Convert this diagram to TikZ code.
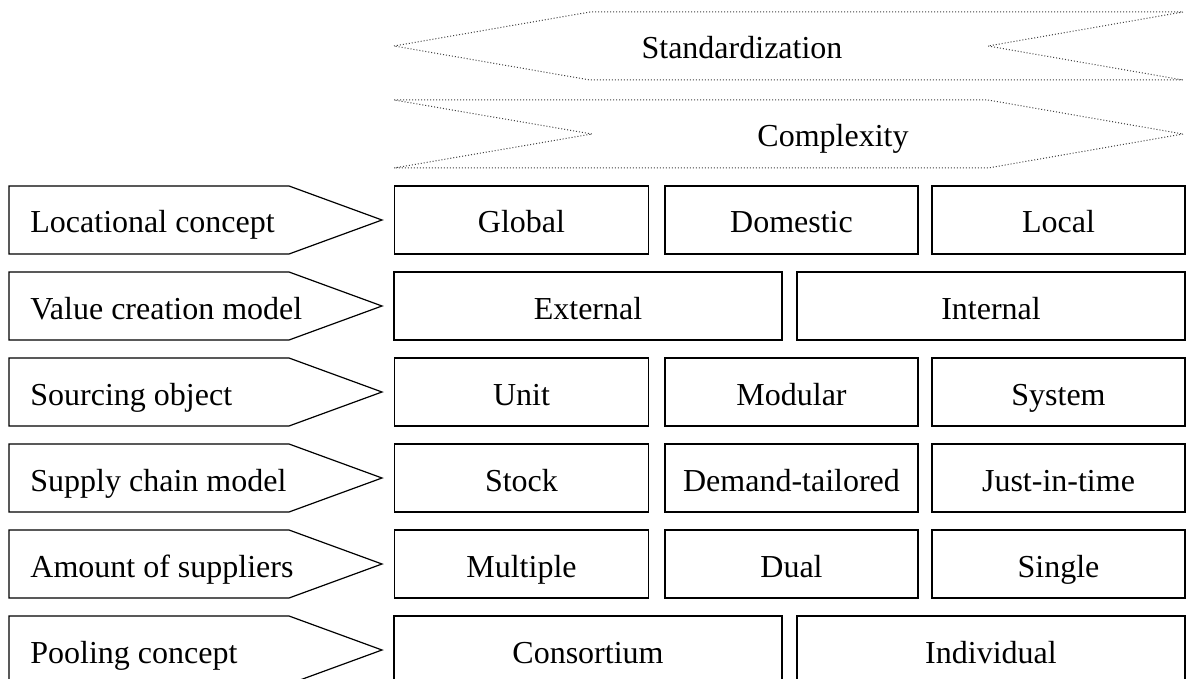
\documentclass[tikz,border=0pt]{standalone}
\usepackage{fontspec}
\setmainfont{Liberation Serif}
\usetikzlibrary{calc}
\newcommand{\rowpitch}{86}

\begin{document}
\begin{tikzpicture}[x=.5pt,y=-.5pt,
    cell/.style={draw, line width=.6pt, rectangle, inner sep=0pt, minimum height=34pt},
    band/.style={draw=black!75, densely dotted, line width=.5pt},
    txt/.style={font=\fontsize{16}{19}\selectfont, inner sep=0pt, text height=13pt, text depth=0pt}]
      \useasboundingbox (0,0) rectangle (1193,679);

      % trend bands
      \draw[band] (394,46) -- (590,12) -- (1183,12) -- (988,46) -- (1183,80) -- (590,80) -- cycle;
      \node (std) at (742,46) [txt] {Standardization};
      \draw[band] (394,100) -- (988,100) -- (1183,134) -- (988,168) -- (394,168) -- (592,134) -- cycle;
      \node (cpx) at (833,134) [txt] {Complexity};

      % categories
      \foreach \r/\t in {0/Locational concept, 1/Value creation model, 2/Sourcing object,
                         3/Supply chain model, 4/Amount of suppliers, 5/Pooling concept}
      {
        \pgfmathsetmacro{\yt}{186+\rowpitch*\r}
        \pgfmathsetmacro{\ym}{\yt+34}
        \pgfmathsetmacro{\yb}{\yt+68}
        \draw[line width=.6pt] (9,\yt) -- (289,\yt) -- (382,\ym) -- (289,\yb) -- (9,\yb) -- cycle;
        \node (cat\r) at (30,\ym) [txt, anchor=west] {\t};
      }

      % options, three per row
      \foreach \r/\a/\b/\c in {0/Global/Domestic/Local, 2/Unit/Modular/System,
                               3/Stock/Demand-tailored/Just-in-time, 4/Multiple/Dual/Single}
      {
        \pgfmathsetmacro{\ym}{220+\rowpitch*\r}
        \node (opt\r a) at (521.5,\ym) [cell, txt, minimum width=127pt] {\a};
        \node (opt\r b) at (791.5,\ym) [cell, txt, minimum width=126.5pt] {\b};
        \node (opt\r c) at (1058.5,\ym) [cell, txt, minimum width=126.5pt] {\c};
      }

      % options, two per row
      \foreach \r/\a/\b in {1/External/Internal, 5/Consortium/Individual}
      {
        \pgfmathsetmacro{\ym}{220+\rowpitch*\r}
        \node (opt\r a) at (588,\ym) [cell, txt, minimum width=194pt] {\a};
        \node (opt\r b) at (991,\ym) [cell, txt, minimum width=194pt] {\b};
      }
    \end{tikzpicture}
\end{document}
